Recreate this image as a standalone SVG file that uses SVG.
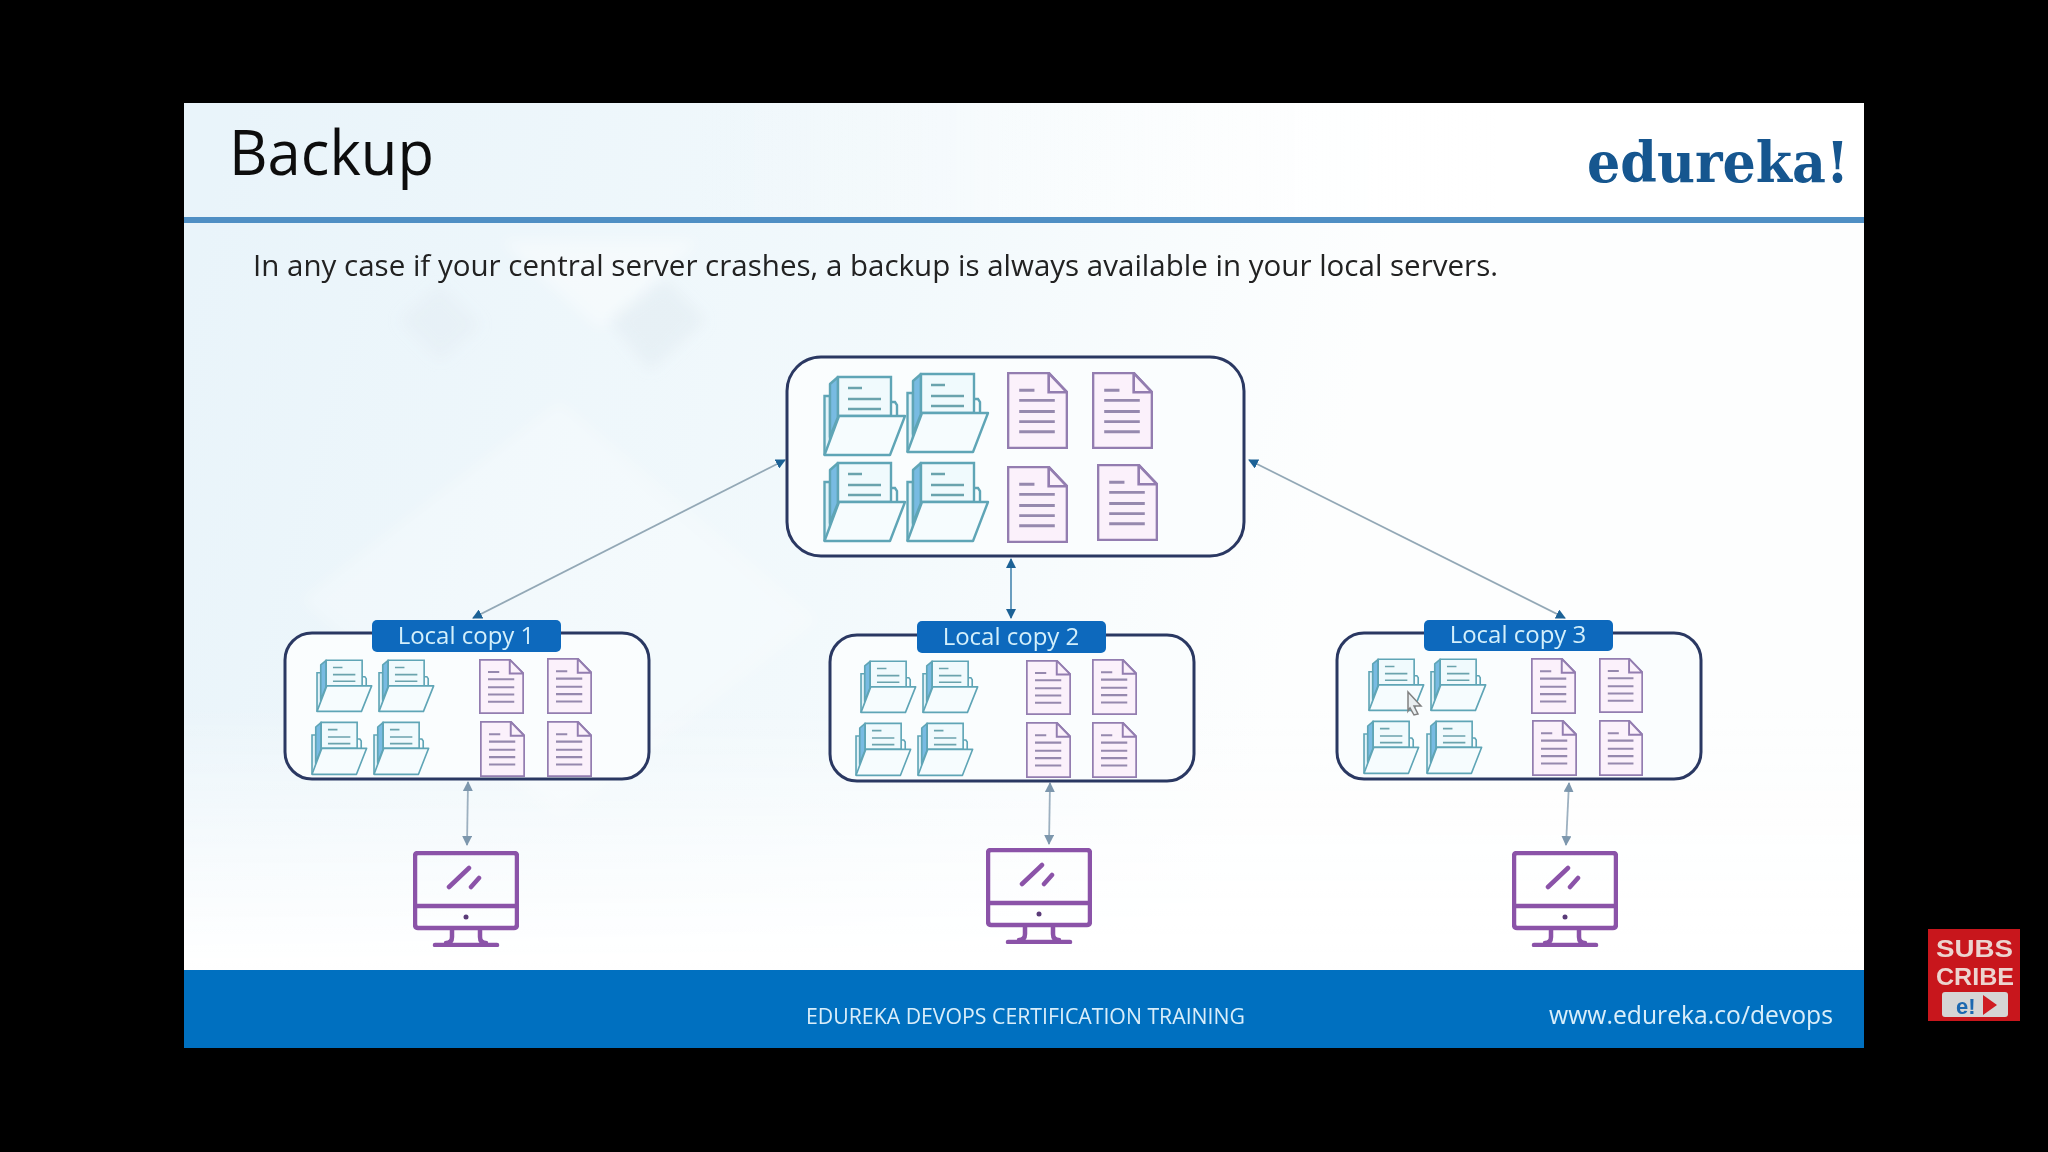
<svg xmlns="http://www.w3.org/2000/svg" width="2048" height="1152" viewBox="0 0 2048 1152">
<style>
.box{fill:#fafdfe;stroke:#2b3862;stroke-width:3}
.lbl{fill:#0b69bd}
.lt{font-family:"Open Sans","Liberation Sans",sans-serif;font-size:24px;fill:#d3effb;text-anchor:middle}
.conn{fill:none;stroke:#5c93b8;stroke-width:1.8}
.diag{fill:none;stroke:#93a8b6;stroke-width:1.8}
.conn2{fill:none;stroke:#9db0c0;stroke-width:1.8}
.mon{fill:none;stroke:#8b52a8;stroke-width:4.5;stroke-linejoin:round;stroke-linecap:round}
.fl{fill:none;stroke:#5fa5b6;stroke-width:2.4}
.dl{stroke:#937db0;stroke-width:2.6;fill:#fbf1fb}
.dt{stroke:#9689ae;stroke-width:2.8;fill:none}
.ft{font-family:"Open Sans","Liberation Sans",sans-serif;fill:#d9eefa}
</style>
<defs>
<linearGradient id="bg" gradientUnits="userSpaceOnUse" x1="184" y1="300" x2="1300" y2="600"><stop offset="0" stop-color="#e9f4fa"/><stop offset="0.6" stop-color="#f2f9fc"/><stop offset="1" stop-color="#fdfefe"/></linearGradient>
<linearGradient id="hfade" x1="0" x2="1" y1="0" y2="0"><stop offset="0" stop-color="#fff" stop-opacity="0"/><stop offset="1" stop-color="#fff" stop-opacity="0.9"/></linearGradient>
<linearGradient id="fade" x1="0" x2="0" y1="0" y2="1"><stop offset="0" stop-color="#fff" stop-opacity="0"/><stop offset="1" stop-color="#fff"/></linearGradient>
<filter id="soft" x="-2%" y="-2%" width="104%" height="104%"><feGaussianBlur stdDeviation="0.7"/></filter>
<filter id="wide" x="-20%" y="-20%" width="140%" height="140%"><feGaussianBlur stdDeviation="7"/></filter>
<marker id="ah" viewBox="0 0 10 10" refX="9" refY="5" markerWidth="10" markerHeight="10" markerUnits="userSpaceOnUse" orient="auto-start-reverse"><path d="M0 0L10 5L0 10Z" fill="#1f6296"/></marker>
<marker id="ah2" viewBox="0 0 10 10" refX="9" refY="5" markerWidth="10" markerHeight="10" markerUnits="userSpaceOnUse" orient="auto-start-reverse"><path d="M0 0L10 5L0 10Z" fill="#7d97ad"/></marker>
<symbol id="folder" viewBox="0 0 84 84" preserveAspectRatio="none">
<path d="M1.5 80V21H7V70Z" fill="#e3f3f9" stroke="#5fa5b6" stroke-width="2.4"/>
<path d="M7 62V9L15 2V42Z" fill="#78bbe2" stroke="#5fa5b6" stroke-width="2.4" stroke-linejoin="round"/>
<path d="M15 2H68V41H15Z" fill="#f0fafd" stroke="#5fa5b6" stroke-width="2.4"/>
<path d="M68 27H72L74 30V41" class="fl"/>
<path d="M25 13H39M25 24H58M25 34H58" fill="none" stroke="#6ba3ad" stroke-width="2.6"/>
<path d="M1.5 80L16 41H82L67 80Z" fill="#f6fcfe" stroke="#5fa5b6" stroke-width="2.4" stroke-linejoin="round"/>
</symbol>
<symbol id="doc" viewBox="0 0 60 76" preserveAspectRatio="none">
<path class="dl" d="M1 1H41L59 20V75H1Z"/>
<path class="dl" d="M41 1V20H59Z"/>
<path class="dt" d="M12 18H27M12 28H47M12 39H47M12 49H47M12 59H47"/>
</symbol>
<symbol id="monitor" viewBox="0 0 106 96" preserveAspectRatio="none">
<path class="mon" d="M5 2H101Q104 2 104 5V73Q104 77 101 77H5Q2 77 2 73V5Q2 2 5 2ZM2 55H104M39 78V86Q39 92 33 92M67 78V86Q67 92 73 92M22 94H84M36 36L56 17M58 36L66 27"/>
<circle cx="53" cy="66" r="2.5" fill="#5a3a78"/>
</symbol>
</defs>
<rect width="2048" height="1152" fill="#000"/>
<g id="slide" filter="url(#soft)">
<rect x="184" y="103" width="1680" height="945" fill="url(#bg)"/>
<g filter="url(#wide)">
<path d="M300 600L560 400L820 620L560 820Z" fill="#fff" opacity="0.25"/>
<path d="M610 320L665 280L705 320L650 370Z" fill="#dde7ee" opacity="0.4"/>
<path d="M400 320L440 285L480 325L440 360Z" fill="#e0e9f0" opacity="0.35"/>
<path d="M500 240L700 240L600 330Z" fill="#fff" opacity="0.4"/>
</g>
<rect x="184" y="700" width="1680" height="270" fill="url(#fade)"/>
<rect x="700" y="103" width="800" height="114" fill="url(#hfade)"/>
<rect x="1500" y="103" width="364" height="114" fill="#fff" opacity="0.9"/>
<rect x="184" y="217" width="1680" height="6" fill="#4f8fc4"/>
<text id="title" x="229" y="175" font-family="'Open Sans','Liberation Sans',sans-serif" font-size="63" fill="#111" textLength="205" lengthAdjust="spacingAndGlyphs">Backup</text>
<text id="logo" x="1587" y="182" font-family="'DejaVu Serif','Liberation Serif',serif" font-weight="700" font-size="56" fill="#14568f" textLength="262" lengthAdjust="spacingAndGlyphs">edureka!</text>
<text id="subtitle" x="253" y="276" font-family="'Open Sans','Liberation Sans',sans-serif" font-size="30" fill="#222" textLength="1245" lengthAdjust="spacingAndGlyphs">In any case if your central server crashes, a backup is always available in your local servers.</text>

<g id="connectors">
<path class="diag" marker-start="url(#ah)" marker-end="url(#ah)" d="M785 460L473 618"/>
<path class="diag" marker-start="url(#ah)" marker-end="url(#ah)" d="M1249 460L1565 618"/>
<path class="conn" marker-start="url(#ah)" marker-end="url(#ah)" d="M1011 559V618"/>
<path class="conn2" marker-start="url(#ah2)" marker-end="url(#ah2)" d="M468 782L467 845"/>
<path class="conn2" marker-start="url(#ah2)" marker-end="url(#ah2)" d="M1050 783L1049 844"/>
<path class="conn2" marker-start="url(#ah2)" marker-end="url(#ah2)" d="M1569 783L1566 845"/>
</g>

<g id="central">
<rect class="box" x="787" y="357" width="457" height="199" rx="34"/>
<use href="#folder" x="823" y="375" width="84" height="84"/>
<use href="#folder" x="906" y="372" width="84" height="84"/>
<use href="#folder" x="823" y="461" width="84" height="84"/>
<use href="#folder" x="906" y="461" width="84" height="84"/>
<use href="#doc" x="1007" y="372" width="61" height="77"/>
<use href="#doc" x="1092" y="372" width="61" height="77"/>
<use href="#doc" x="1007" y="466" width="61" height="77"/>
<use href="#doc" x="1097" y="464" width="61" height="77"/>
</g>

<g id="local1">
<rect class="box" x="285" y="633" width="364" height="146" rx="27"/>
<use href="#folder" x="316" y="659" width="57" height="55"/>
<use href="#folder" x="378" y="659" width="57" height="55"/>
<use href="#folder" x="311" y="721" width="57" height="56"/>
<use href="#folder" x="373" y="721" width="57" height="56"/>
<use href="#doc" x="479" y="659" width="45" height="55"/>
<use href="#doc" x="547" y="658" width="45" height="56"/>
<use href="#doc" x="480" y="721" width="45" height="56"/>
<use href="#doc" x="547" y="721" width="45" height="56"/>
<rect class="lbl" x="372" y="620" width="189" height="32" rx="5"/>
<text class="lt" x="466" y="644">Local copy 1</text>
</g>

<g id="local2">
<rect class="box" x="830" y="635" width="364" height="146" rx="27"/>
<use href="#folder" x="860" y="660" width="57" height="55"/>
<use href="#folder" x="922" y="660" width="57" height="55"/>
<use href="#folder" x="855" y="722" width="57" height="56"/>
<use href="#folder" x="917" y="722" width="57" height="56"/>
<use href="#doc" x="1026" y="660" width="45" height="55"/>
<use href="#doc" x="1092" y="659" width="45" height="56"/>
<use href="#doc" x="1026" y="722" width="45" height="56"/>
<use href="#doc" x="1092" y="722" width="45" height="56"/>
<rect class="lbl" x="917" y="621" width="189" height="32" rx="5"/>
<text class="lt" x="1011" y="645">Local copy 2</text>
</g>

<g id="local3">
<rect class="box" x="1337" y="633" width="364" height="146" rx="27"/>
<use href="#folder" x="1368" y="658" width="57" height="55"/>
<use href="#folder" x="1430" y="658" width="57" height="55"/>
<use href="#folder" x="1363" y="720" width="57" height="56"/>
<use href="#folder" x="1426" y="720" width="57" height="56"/>
<use href="#doc" x="1531" y="658" width="45" height="56"/>
<use href="#doc" x="1599" y="658" width="44" height="55"/>
<use href="#doc" x="1532" y="720" width="45" height="56"/>
<use href="#doc" x="1599" y="720" width="44" height="56"/>
<rect class="lbl" x="1424" y="620" width="189" height="31" rx="5"/>
<text class="lt" x="1518" y="643">Local copy 3</text>
</g>

<g id="pc1"><use href="#monitor" x="413" y="851" width="106" height="96"/></g>
<g id="pc2"><use href="#monitor" x="986" y="848" width="106" height="96"/></g>
<g id="pc3"><use href="#monitor" x="1512" y="851" width="106" height="96"/></g>

<path id="cursor" d="M1408 692L1421 706L1414 706L1418 714L1414 715L1410 708L1408 711Z" fill="#e9eef0" stroke="#808080" stroke-width="1.5"/>

<g id="footer">
<rect x="184" y="970" width="1680" height="78" fill="#0070c0"/>
<text class="ft" x="806" y="1024" font-size="21" textLength="439" lengthAdjust="spacingAndGlyphs">EDUREKA DEVOPS CERTIFICATION TRAINING</text>
<text class="ft" x="1549" y="1024" font-size="25" textLength="284" lengthAdjust="spacingAndGlyphs">www.edureka.co/devops</text>
</g>
</g>
<g id="subscribe" filter="url(#soft)">
<rect x="1928" y="929" width="92" height="92" fill="#c8141b"/>
<text x="1936" y="957" font-family="'Liberation Sans',sans-serif" font-weight="700" font-size="24" fill="#ecd4cf" textLength="77" lengthAdjust="spacingAndGlyphs">SUBS</text>
<text x="1936" y="985" font-family="'Liberation Sans',sans-serif" font-weight="700" font-size="24" fill="#ecd4cf" textLength="78" lengthAdjust="spacingAndGlyphs">CRIBE</text>
<rect x="1942" y="992" width="66" height="25" rx="3" fill="#d5d5d5"/>
<text x="1956" y="1014" font-family="'Liberation Sans',sans-serif" font-weight="700" font-size="22" fill="#1b68b0">e!</text>
<path d="M1983 995L1997 1005L1983 1015Z" fill="#d01a20"/>
</g>
</svg>
